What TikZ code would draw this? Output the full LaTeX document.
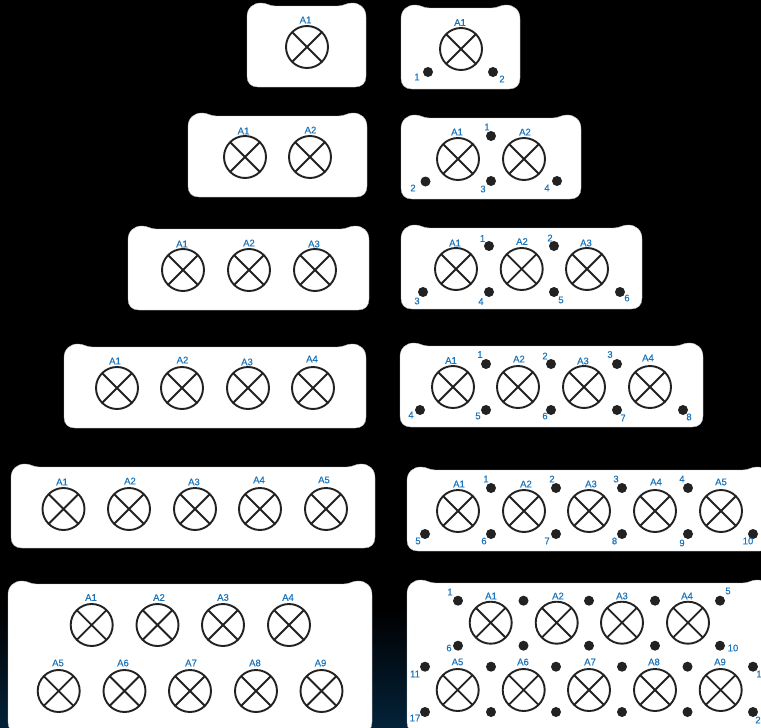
\documentclass[tikz,border=0pt]{standalone}
\usepackage{fontspec}
\setmainfont{Liberation Sans}
\newfontfamily\tagfont[FakeBold=0.35]{Liberation Sans}
\usetikzlibrary{calc}
\definecolor{lblue}{HTML}{1B75BC}
\definecolor{lampk}{HTML}{222222}
\definecolor{deepb}{HTML}{04233A}
\tikzset{
  x=1pt,y=-1pt,
  panelbox/.style={fill=white,draw=black!25,line width=0.4pt},
  lampring/.style={circle,draw=lampk,line width=1.9pt,minimum size=42pt,inner sep=0pt,outer sep=0pt},
  lampcross/.style={draw=lampk,line width=1.8pt},
  pindot/.style={circle,fill=lampk,draw=none,minimum size=10pt,inner sep=0pt},
  tag/.style={text=lblue,font=\tagfont\fontsize{9.5}{10}\selectfont,inner sep=0pt},
}
\newcommand{\mypanel}[4]{%
  \path[panelbox] (#1,#2+14) .. controls (#1,#2+5) and (#1+6,#2) .. (#1+14,#2)
    .. controls (#1+20,#2) and (#1+22,#2+3) .. (#1+28,#2+3)
    -- (#3-28,#2+3) .. controls (#3-22,#2+3) and (#3-20,#2) .. (#3-14,#2)
    .. controls (#3-6,#2) and (#3,#2+5) .. (#3,#2+14)
    -- (#3,#4-11) .. controls (#3,#4-4) and (#3-4,#4) .. (#3-11,#4)
    -- (#1+11,#4) .. controls (#1+4,#4) and (#1,#4-4) .. (#1,#4-11) -- cycle;}
% name, x, y, label, label x, label y
\newcommand{\lamp}[6]{%
  \node[lampring] (#1) at (#2,#3) {};
  \draw[lampcross] (#1.45) -- (#1.225) (#1.135) -- (#1.315);
  \node[tag] (#1t) at (#5,#6) {#4};}
\newcommand{\pin}[3]{\node[pindot] (#1) at (#2,#3) {};}
\newcommand{\pinlabel}[4]{\node[tag] (#1) at (#3,#4) {#2};}
\begin{document}
\begin{tikzpicture}
\useasboundingbox (0,0) rectangle (761,728);
\clip (0,0) rectangle (761,728);
\fill[black] (0,0) rectangle (761,728);
\shade[top color=black,bottom color=deepb] (0,610) rectangle (761,728);
% left column
\mypanel{247}{3}{366}{87}
\lamp{la}{307}{47}{A1}{305.5}{20}
\mypanel{188}{113}{367}{197}
\lamp{lba}{245}{157}{A1}{243.5}{131}
\lamp{lbb}{310}{157}{A2}{310.5}{130}
\mypanel{128}{226}{369}{310}
\lamp{lca}{183}{270}{A1}{182}{244}
\lamp{lcb}{249}{270}{A2}{249}{243}
\lamp{lcc}{315}{270}{A3}{314}{244}
\mypanel{64}{344}{366}{428}
\lamp{lda}{117}{388}{A1}{115}{361}
\lamp{ldb}{182}{388}{A2}{182.5}{360}
\lamp{ldc}{248}{388}{A3}{247}{362}
\lamp{ldd}{313}{388}{A4}{312}{359}
\mypanel{11}{464}{375}{548}
\lamp{lea}{63.5}{509}{A1}{62}{482}
\lamp{leb}{129}{509}{A2}{130}{481}
\lamp{lec}{195}{509}{A3}{194}{482}
\lamp{led}{260}{509}{A4}{259}{480}
\lamp{lee}{326}{509}{A5}{324}{480}
\mypanel{8}{581}{372}{733}
\lamp{lfa}{91.7}{625}{A1}{91}{597.5}
\lamp{lfb}{157.5}{625}{A2}{159}{597.5}
\lamp{lfc}{223}{625}{A3}{223}{597.5}
\lamp{lfd}{289}{625}{A4}{288}{597.5}
\lamp{lfe}{58.7}{691}{A5}{58}{663}
\lamp{lff}{124.5}{691}{A6}{123}{663}
\lamp{lfg}{190}{691}{A7}{191}{663}
\lamp{lfh}{256}{691}{A8}{255}{663}
\lamp{lfi}{321.5}{691}{A9}{320.5}{663}
% right column, row 1
\mypanel{401}{5}{520}{89}
\lamp{ra}{461}{49}{A1}{460}{22.5}
\pin{rap}{428}{72}\pinlabel{ral}{1}{417}{77}
\pin{raq}{493}{72}\pinlabel{ram}{2}{502}{79}
% row 2
\mypanel{401}{115}{581}{199}
\lamp{rba}{458}{159}{A1}{457}{132}
\lamp{rbb}{524}{159}{A2}{525}{132}
\foreach \n/\t/\px/\py/\lx/\ly in {1/1/491/136/487/127,2/2/425.5/181.5/413/188,3/3/491/181/483/189,4/4/557/181/547/188}{
  \node[pindot] (rbp\n) at (\px,\py) {};
  \node[tag] (rbl\n) at (\lx,\ly) {\t};
}
% row 3
\mypanel{401}{225}{642}{309}
\lamp{rca}{456}{269}{A1}{455}{243}
\lamp{rcb}{521.7}{269}{A2}{522}{241.5}
\lamp{rcc}{587}{269}{A3}{586}{243}
\foreach \n/\px/\py/\lx/\ly in {1/489/246/482.5/238.5,2/554/246/550/238,3/423/292/417/301,4/489/292/481/301.5,5/554/292/561/300,6/620/292/627/298}{
  \node[pindot] (rcp\n) at (\px,\py) {};
  \node[tag] (rcl\n) at (\lx,\ly) {\n};
}
% row 4
\mypanel{400}{343}{703}{427}
\lamp{rda}{453}{387}{A1}{451}{360.5}
\lamp{rdb}{518}{387}{A2}{519}{359}
\lamp{rdc}{584}{387}{A3}{583}{361}
\lamp{rdd}{650}{387}{A4}{648}{358}
\foreach \n/\px/\py/\lx/\ly in {1/486/364/480/354.5,2/551/364/545/356,3/617/364/610/354.5,4/420/410/411/415,5/486/410/478/416,6/551/410/545/416,7/617/410/623/418,8/683/410/689/417}{
  \node[pindot] (rdp\n) at (\px,\py) {};
  \node[tag] (rdl\n) at (\lx,\ly) {\n};
}
% row 5
\mypanel{407}{467}{771}{551}
\lamp{rea}{458}{511}{A1}{459}{484}
\lamp{reb}{524}{511}{A2}{526}{484}
\lamp{rec}{589}{511}{A3}{591}{484}
\lamp{red}{655}{511}{A4}{656}{482}
\lamp{ree}{721}{511}{A5}{721}{482}
\foreach \n/\px/\py/\lx/\ly in {1/491/488/486/479,2/556/488/552/479,3/622/488/616/479,4/688/488/682/479,5/425/534/418/541,6/491/534/484/541,7/556/534/547/541,8/622/534/614.5/541,9/688/534/682/543,10/753/534/748/541}{
  \node[pindot] (rep\n) at (\px,\py) {};
  \node[tag] (rel\n) at (\lx,\ly) {\n};
}
% row 6
\mypanel{407}{580}{771}{733}
\lamp{rfa}{490.7}{622.7}{A1}{491}{596}
\lamp{rfb}{556.7}{622.7}{A2}{558}{596}
\lamp{rfc}{622}{622.7}{A3}{622}{596}
\lamp{rfd}{688}{622.7}{A4}{687}{596}
\lamp{rfe}{457.7}{690}{A5}{457.5}{662}
\lamp{rff}{523.7}{690}{A6}{523}{662}
\lamp{rfg}{589}{690}{A7}{590}{662}
\lamp{rfh}{655}{690}{A8}{654}{662}
\lamp{rfi}{720.7}{690}{A9}{720}{662}
\foreach \k/\px in {1/458,2/523.5,3/589,4/655,5/720}{
  \node[pindot] (rft\k) at (\px,600.7) {};
  \node[pindot] (rfm\k) at (\px,645.7) {};
}
\foreach \k/\px in {1/425,2/491,3/556,4/622,5/687.5,6/753}{
  \node[pindot] (rfu\k) at (\px,666.7) {};
  \node[pindot] (rfv\k) at (\px,712) {};
}
\foreach \n/\t/\lx/\ly in {a/1/450/592,b/5/728/591,c/6/449/648,d/10/733/648,e/11/415/674,f/1/759/674,g/17/415/718,h/2/758/720}{
  \node[tag] (rfl\n) at (\lx,\ly) {\t};
}
\end{tikzpicture}
\end{document}
